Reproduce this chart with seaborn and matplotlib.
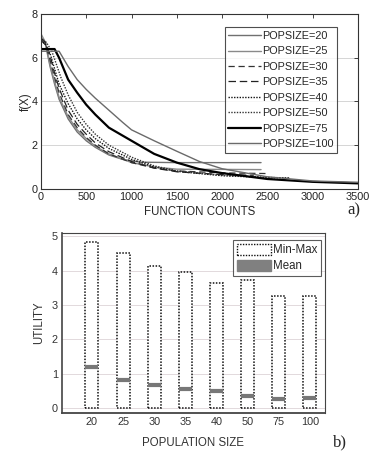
import numpy as np
import pandas as pd
import matplotlib
matplotlib.use("Agg")
import matplotlib.pyplot as plt
import seaborn as sns
from matplotlib.patches import Patch

# --- panel a) convergence curves -------------------------------------------
POP_LABELS = ["POPSIZE=20", "POPSIZE=25", "POPSIZE=30", "POPSIZE=35",
              "POPSIZE=40", "POPSIZE=50", "POPSIZE=75", "POPSIZE=100"]

fc_20 = [0, 50, 100, 150, 200, 300, 400, 500, 600, 750, 900, 1100, 1500, 2430]
fx_20 = [6.9, 6.6, 5.6, 4.8, 4.1, 3.2, 2.6, 2.2, 1.9, 1.55, 1.35, 1.22, 1.2, 1.2]

fc_25 = [0, 50, 100, 150, 200, 300, 400, 500, 600, 750, 1000, 1250, 1500, 2430]
fx_25 = [7.1, 6.7, 5.7, 4.9, 4.2, 3.3, 2.7, 2.3, 1.95, 1.6, 1.2, 1.0, 0.9, 0.88]

fc_30 = [0, 50, 100, 150, 200, 300, 400, 500, 600, 750, 1000, 1250, 1500, 2000, 2490]
fx_30 = [6.8, 6.6, 5.9, 5.1, 4.4, 3.4, 2.8, 2.35, 2.0, 1.6, 1.2, 0.95, 0.82, 0.73, 0.7]

fc_35 = [0, 50, 100, 150, 200, 300, 400, 500, 600, 750, 1000, 1250, 1500, 2000, 2350]
fx_35 = [6.9, 6.7, 6.1, 5.3, 4.6, 3.6, 2.95, 2.5, 2.1, 1.7, 1.25, 0.95, 0.78, 0.65, 0.62]

fc_40 = [0, 50, 100, 150, 200, 300, 400, 500, 600, 750, 1000, 1250, 1500, 2000, 2500, 2750]
fx_40 = [6.8, 6.6, 6.2, 5.5, 4.8, 3.9, 3.2, 2.7, 2.3, 1.85, 1.35, 1.0, 0.8, 0.6, 0.52, 0.5]

fc_50 = [0, 60, 120, 170, 220, 300, 400, 500, 600, 750, 1000, 1250, 1500, 2000, 2500, 2750]
fx_50 = [6.9, 6.7, 6.3, 5.7, 5.1, 4.3, 3.5, 2.95, 2.5, 2.0, 1.45, 1.05, 0.82, 0.62, 0.52, 0.48]

fc_75 = [0, 150, 200, 300, 400, 500, 600, 750, 1000, 1250, 1500, 1750, 2000, 2500, 3000, 3500]
fx_75 = [6.4, 6.4, 6.0, 5.0, 4.4, 3.85, 3.4, 2.8, 2.2, 1.6, 1.2, 0.9, 0.72, 0.45, 0.32, 0.25]

fc_100 = [0, 200, 300, 400, 500, 600, 750, 900, 1000, 1250, 1500, 1750, 2000, 2500, 3000, 3500]
fx_100 = [6.3, 6.3, 5.6, 5.0, 4.55, 4.15, 3.6, 3.05, 2.7, 2.2, 1.72, 1.25, 0.92, 0.55, 0.36, 0.3]

# --- panel b) utility per population size ----------------------------------
POP_SIZES = ["20", "25", "30", "35", "40", "50", "75", "100"]
UTIL_MIN = [0, 0, 0, 0, 0, 0, 0, 0]
UTIL_MAX = [4.85, 4.52, 4.15, 3.97, 3.63, 3.73, 3.27, 3.27]
UTIL_MEAN = [1.2, 0.83, 0.67, 0.55, 0.49, 0.35, 0.26, 0.3]

curves = [(fc_20, fx_20), (fc_25, fx_25), (fc_30, fx_30), (fc_35, fx_35),
          (fc_40, fx_40), (fc_50, fx_50), (fc_75, fx_75), (fc_100, fx_100)]
styles = [
    dict(color="#707070", ls="-", lw=1.0),
    dict(color="#8a8a8a", ls="-", lw=1.0),
    dict(color="#333333", ls=(0, (5, 3)), lw=0.9),
    dict(color="#222222", ls=(0, (6, 3)), lw=0.9),
    dict(color="#111111", ls=(0, (1, 1)), lw=1.0),
    dict(color="#333333", ls=(0, (1, 1)), lw=1.0),
    dict(color="#000000", ls="-", lw=1.6),
    dict(color="#6a6a6a", ls="-", lw=1.0),
]

sns.set_style("white")
plt.rcParams["font.family"] = ["Liberation Sans", "DejaVu Sans"]
plt.rcParams["font.size"] = 7.5

fig = plt.figure(figsize=(3.76, 4.55), dpi=100)
ax1 = fig.add_axes([0.109, 0.585, 0.843, 0.384])
ax2 = fig.add_axes([0.165, 0.092, 0.699, 0.396])

for (xs, ys), label, st in zip(curves, POP_LABELS, styles):
    df = pd.DataFrame({"fc": xs, "fx": ys})
    sns.lineplot(data=df, x="fc", y="fx", ax=ax1, color=st["color"],
                 linestyle=st["ls"], linewidth=st["lw"], label=label,
                 estimator=None, sort=False)

ax1.set_xlim(0, 3500)
ax1.set_ylim(0, 8)
ax1.set_xticks(np.arange(0, 3501, 500))
ax1.set_yticks([0, 2, 4, 6, 8])
ax1.yaxis.grid(True, color="#cfcfcf", lw=0.6)
ax1.set_axisbelow(True)
ax1.tick_params(direction="in", length=3, width=0.6, top=True, right=True,
                labelsize=7.8, pad=2.5, colors="#222222")
ax1.set_xlabel("FUNCTION COUNTS", fontsize=8.3, labelpad=2.5)
ax1.set_ylabel("f(X)", fontsize=8.3, labelpad=0)
for sp in ax1.spines.values():
    sp.set_color("#333333")
    sp.set_linewidth(0.8)
leg = ax1.legend(loc="upper right", bbox_to_anchor=(0.935, 0.925), fontsize=7.8,
                 frameon=True, fancybox=False, edgecolor="#222222",
                 handlelength=3.0, handletextpad=0.1, labelspacing=0.5,
                 borderpad=0.35, borderaxespad=0)
leg.get_frame().set_linewidth(0.8)

# panel b
df_b = pd.DataFrame({"pop": POP_SIZES, "umax": UTIL_MAX, "umin": UTIL_MIN,
                     "umean": UTIL_MEAN})
sns.barplot(data=df_b, x="pop", y="umax", ax=ax2, color="white",
            edgecolor="#111111", linewidth=1.1, linestyle=(0, (1, 1)),
            width=0.42, saturation=1)
pos = np.arange(len(POP_SIZES))
ax2.hlines(df_b["umean"], pos - 0.21, pos + 0.21, color="#777777", lw=3.0)

ax2.set_xlim(-0.96, 7.48)
ax2.set_ylim(-0.15, 5.1)
ax2.set_yticks([0, 1, 2, 3, 4, 5])
ax2.yaxis.grid(True, color="#e2d9dc", lw=0.7)
ax2.set_axisbelow(True)
ax2.tick_params(direction="in", length=2, width=0.5, labelsize=7.8, pad=3,
                colors="#333333")
ax2.set_xlabel("POPULATION SIZE", fontsize=8.3, labelpad=7, color="#333333")
ax2.set_ylabel("UTILITY", fontsize=8.3, labelpad=5, color="#333333")
for name, sp in ax2.spines.items():
    sp.set_color("#444444")
    sp.set_linewidth(0.8)
ax2.spines["bottom"].set_linewidth(1.3)
ax2.spines["left"].set_linewidth(1.2)

handles = [Patch(facecolor="white", edgecolor="#111111", linestyle=(0, (1, 1)),
                 linewidth=1.0, label="Min-Max"),
           Patch(facecolor="#808080", edgecolor="#808080", label="Mean")]
leg2 = ax2.legend(handles=handles, loc="upper right", fontsize=8.3,
                  frameon=True, fancybox=False, edgecolor="#333333",
                  handlelength=3.0, handleheight=1.0, handletextpad=0.1,
                  labelspacing=0.35, borderpad=0.35,
                  bbox_to_anchor=(0.985, 0.96), borderaxespad=0)
leg2.get_frame().set_linewidth(0.8)

fig.text(0.925, 0.528, "a)", fontsize=12, family=["Liberation Serif", "DejaVu Serif"])
fig.text(0.885, 0.018, "b)", fontsize=12, family=["Liberation Serif", "DejaVu Serif"])

fig.savefig("out.png", dpi=100)
